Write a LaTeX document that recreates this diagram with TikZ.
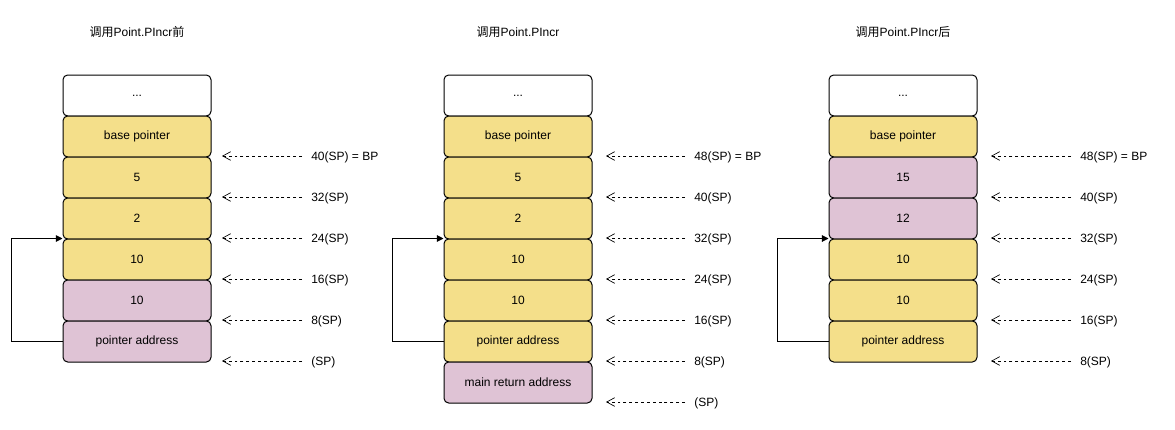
\documentclass[tikz,border=0pt]{standalone}
\usepackage{fontspec}
\setmainfont{Liberation Sans}
\newfontfamily\cjk{Noto Sans CJK SC}
\usetikzlibrary{arrows.meta}
\usetikzlibrary{positioning}
\definecolor{jaune}{HTML}{F4DF8A}
\definecolor{mauve}{HTML}{DFC3D5}

\begin{document}
\begin{tikzpicture}[x=0.75pt, y=-0.75pt, font=\fontsize{9}{11}\selectfont,
	cell/.style={draw, rounded corners=3.5pt, minimum width=111pt, minimum height=30.75pt, inner sep=0pt, line width=0.75pt},
	pile/.style={cell, fill=jaune}, arg/.style={cell, fill=mauve},
	sp/.style={dashed, dash pattern=on 2.2pt off 2.2pt, -{Straight Barb[length=6pt, width=6.5pt]}, line width=0.5pt},
	spl/.style={anchor=west, inner sep=0pt},
	back/.style={-{Triangle[length=5pt, width=5pt]}, line width=0.75pt}]
		\useasboundingbox (0,0) rectangle (1175,429);
		\node(title0) at (137, 32) {{\cjk 调用}Point.PIncr{\cjk 前}};
		\node(title1) at (518, 32) {{\cjk 调用}Point.PIncr};
		\node(title2) at (903, 32) {{\cjk 调用}Point.PIncr{\cjk 后}};
		
		% before the call
		\node[cell, fill=white](s1n0) at (137, 95.5) {...};
		\node[pile](s1n1) at (137, 136.5) {base pointer};
		\node[pile](s1n2) at (137, 177.5) {5};
		\node[pile](s1n3) at (137, 218.5) {2};
		\node[pile](s1n4) at (137, 259.5) {10};
		\node[arg](s1n5) at (137, 300.5) {10};
		\node[arg](s1n6) at (137, 341.5) {pointer address};
		\draw[back] (s1n6.west) -- ++(-51,0) |- (s1n4.north west);
		
		\foreach \y/\t [count=\i] in {156/40(SP) = BP, 197/32(SP), 238/24(SP), 279/16(SP), 320/8(SP), 361/(SP)} {
			\coordinate (s1p\i) at (222, \y);
			\node[spl](s1l\i) at (311, \y+1) {\t};
			\draw[sp] (s1l\i.west |- s1p\i) ++(-9,0) -- (s1p\i);
		}
		
		% during the call
		\node[cell, fill=white](s2n0) at (518, 95.5) {...};
		\node[pile](s2n1) at (518, 136.5) {base pointer};
		\node[pile](s2n2) at (518, 177.5) {5};
		\node[pile](s2n3) at (518, 218.5) {2};
		\node[pile](s2n4) at (518, 259.5) {10};
		\node[pile](s2n5) at (518, 300.5) {10};
		\node[pile](s2n6) at (518, 341.5) {pointer address};
		\node[arg](s2n7) at (518, 382.5) {main return address};
		\draw[back] (s2n6.west) -- ++(-51,0) |- (s2n4.north west);
		
		\foreach \y/\t [count=\i] in {156/48(SP) = BP, 197/40(SP), 238/32(SP), 279/24(SP), 320/16(SP), 361/8(SP), 402/(SP)} {
			\coordinate (s2p\i) at (606, \y);
			\node[spl](s2l\i) at (694, \y+1) {\t};
			\draw[sp] (s2l\i.west |- s2p\i) ++(-9,0) -- (s2p\i);
		}
		
		% after the call
		\node[cell, fill=white](s3n0) at (903, 95.5) {...};
		\node[pile](s3n1) at (903, 136.5) {base pointer};
		\node[arg](s3n2) at (903, 177.5) {15};
		\node[arg](s3n3) at (903, 218.5) {12};
		\node[pile](s3n4) at (903, 259.5) {10};
		\node[pile](s3n5) at (903, 300.5) {10};
		\node[pile](s3n6) at (903, 341.5) {pointer address};
		\draw[back] (s3n6.west) -- ++(-51,0) |- (s3n4.north west);
		
		\foreach \y/\t [count=\i] in {156/48(SP) = BP, 197/40(SP), 238/32(SP), 279/24(SP), 320/16(SP), 361/8(SP)} {
			\coordinate (s3p\i) at (991, \y);
			\node[spl](s3l\i) at (1080, \y+1) {\t};
			\draw[sp] (s3l\i.west |- s3p\i) ++(-9,0) -- (s3p\i);
		}
		\end{tikzpicture}
\end{document}
